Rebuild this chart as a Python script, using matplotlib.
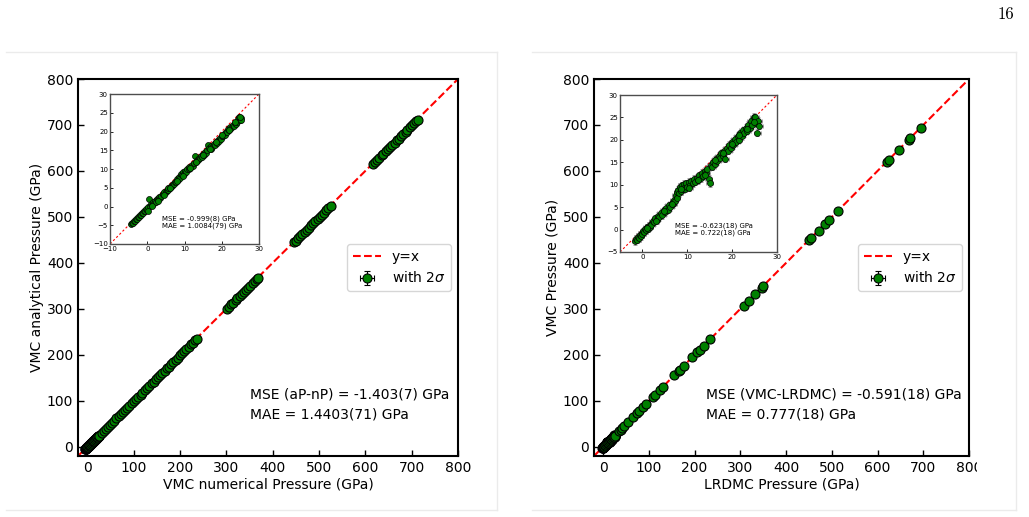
import numpy as np
import matplotlib.pyplot as plt
from matplotlib.lines import Line2D
from matplotlib.patches import Rectangle

#%% DATA

# left panel: VMC numerical vs analytical pressure (GPa), low pressure part (inset)
left_lo_x = [-4.4, -4.1, -3.8, -3.6, -3.3, -3.0, -2.8, -2.5, -2.2, -1.9,
             -1.7, -1.4, -1.1, -0.9, -0.6, -0.3, -0.1, 0.2, 0.5, 0.8,
             1.0, 1.3, 1.6, 1.9, 2.1, 2.4, 2.7, 3.0, 3.2, 3.5,
             3.8, 4.1, 4.3, 4.6, 4.9, 5.2, 5.5, 5.7, 6.0, 6.3,
             6.6, 6.9, 7.1, 7.4, 7.7, 8.0, 8.3, 8.5, 8.8, 9.1,
             9.4, 9.7, 9.9, 10.2, 10.5, 10.8, 11.1, 11.3, 11.6, 11.9,
             12.2, 12.5, 12.7, 13.0, 13.3, 13.6, 13.9, 14.1, 14.4, 14.7,
             15.0, 15.3, 15.6, 15.8, 16.1, 16.4, 16.7, 17.0, 17.2, 17.5,
             17.8, 18.1, 18.4, 18.6, 18.9, 19.2, 19.5, 19.8, 20.0, 20.3,
             20.6, 20.9, 21.2, 21.5, 21.7, 22.0, 22.3, 22.6, 22.9, 23.2,
             23.5, 23.7, 24.0, 24.3, 24.6, 24.9, 25.1, 25.3,
             0.1, 1.4, 2.9, 4.4, 6.2, 7.9, 9.6, 11.5, 13.1, 14.9,
             16.8, 18.5, 20.1, 21.9, 23.6, 24.8]
left_lo_y = [-4.7, -4.5, -4.3, -3.9, -3.8, -3.4, -3.3, -2.8, -2.9, -2.3,
             -2.2, -1.7, -1.8, -1.2, -1.3, -0.7, -0.9, -0.2, 1.9, 0.1,
             0.6, 0.4, 1.1, 0.9, 1.6, 1.3, 2.0, 1.9, 2.6, 2.4,
             2.8, 3.4, 3.3, 3.9, 3.8, 4.5, 4.3, 5.0, 4.9, 5.6,
             5.4, 6.1, 6.0, 6.6, 6.5, 7.3, 7.1, 7.9, 7.7, 8.6,
             8.3, 9.1, 8.8, 9.6, 9.3, 10.1, 9.9, 10.6, 10.3, 11.0,
             10.9, 11.6, 13.4, 12.0, 12.5, 12.3, 13.0, 12.9, 13.6, 13.3,
             14.0, 13.8, 14.5, 14.3, 15.0, 16.3, 15.6, 15.4, 16.1, 15.8,
             16.6, 16.4, 17.2, 16.9, 17.7, 17.5, 18.4, 18.0, 18.9, 18.7,
             19.4, 19.2, 20.0, 19.8, 20.6, 20.3, 21.1, 20.9, 21.7, 21.5,
             22.2, 22.0, 22.6, 23.3, 24.0, 23.1, 23.6, 23.2,
             -1.2, 0.2, 1.5, 3.0, 4.9, 6.8, 8.2, 10.2, 11.8, 13.7,
             15.3, 17.1, 19.1, 20.5, 22.5, 23.9]

# left panel, high pressure part
left_hi_x = [32, 36, 40, 45, 49, 54, 58, 63, 68, 72, 77, 82, 86, 91, 96,
             101, 105, 110, 115, 119, 124, 129, 134, 139, 143, 148, 153, 157,
             162, 167, 172, 176, 181, 186, 191, 195, 200, 205, 209, 214, 219,
             224, 228, 233, 237,
             302, 306, 311, 315, 320, 324, 329, 334, 338, 343, 347, 352, 357,
             361, 366, 369,
             446, 450, 455, 460, 464, 469, 474, 478, 483, 488, 492, 497, 502,
             506, 511, 516, 520, 525,
             616, 620, 625, 630, 635, 639, 644, 649, 654, 658, 663, 668, 672,
             677, 682, 687, 691, 696, 701, 705, 710, 713]
left_hi_y = [30.5, 34.5, 38.7, 43.5, 47.7, 52.5, 56.6, 61.7, 66.5, 70.6,
             75.5, 80.7, 84.5, 89.7, 94.5, 99.6, 103.7, 108.5, 113.6, 117.5,
             122.7, 127.6, 132.5, 137.7, 141.5, 146.6, 151.7, 155.5, 160.6,
             165.5, 170.7, 174.6, 179.5, 184.7, 189.5, 193.6, 198.7, 203.5,
             207.6, 212.5, 217.7, 222.6, 226.5, 231.7, 235.5,
             300.6, 304.5, 309.7, 313.6, 318.5, 322.7, 327.6, 332.5, 336.7,
             341.5, 345.6, 350.7, 355.5, 359.6, 364.5, 367.7,
             444.5, 448.7, 453.6, 458.5, 462.7, 467.6, 472.5, 476.7, 481.6,
             486.5, 490.7, 495.6, 500.5, 504.7, 509.6, 514.5, 518.7, 523.6,
             614.5, 618.7, 623.6, 628.5, 633.7, 637.6, 642.5, 647.7, 652.6,
             656.5, 661.7, 666.6, 670.5, 675.7, 680.6, 685.5, 689.7, 694.6,
             699.5, 703.7, 708.6, 711.5]
left_xerr = 0.3   # 2 sigma, GPa
left_yerr = 0.4

# right panel: LRDMC vs VMC pressure (GPa), low pressure part (inset)
right_lo_x = [-1.6, -1.4, -1.2, -1.0, -0.8, -0.6, -0.4, -0.2, 0.0, 0.2,
              0.4, 0.6, 0.8, 1.0, 1.2, 1.4, 1.6, 1.8, 2.0, 2.3,
              2.6, 2.9, 3.2, 3.5, 3.8, 4.1, 4.4, 4.7, 5.0, 5.3,
              5.6, 5.9, 6.2, 6.5, 6.8, 7.0, 7.2, 7.4, 7.6, 7.8,
              8.0, 8.2, 8.4, 8.6, 8.8, 9.0, 9.2, 9.4, 9.6, 9.8,
              10.0, 10.3, 10.6, 10.9, 11.2, 11.5, 11.8, 12.1, 12.4, 12.7,
              13.0, 13.3, 13.6, 13.9, 14.2, 14.5, 14.8, 15.0, 15.2, 15.5,
              15.8, 16.1, 16.4, 16.7, 17.0, 17.3, 17.6, 17.9, 18.2, 18.5,
              18.8, 19.1, 19.4, 19.7, 20.0, 20.3, 20.6, 20.9, 21.2, 21.5,
              21.8, 22.1, 22.4, 22.7, 23.0, 23.3, 23.6, 23.9, 24.2, 24.5,
              24.8, 25.0, 25.2, 25.4, 25.6, 25.8, 26.0,
              1.1, 3.0, 4.9, 6.6, 8.5, 10.4, 12.3, 14.0, 16.2, 18.0,
              19.9, 21.6, 23.4, 24.9]
right_lo_y = [-2.6, -2.0, -2.3, -1.6, -1.9, -1.2, -1.5, -0.8, -1.0, -0.4,
              -0.6, 0.1, -0.2, 0.5, 0.2, 0.9, 0.6, 1.3, 1.0, 1.8,
              1.6, 2.5, 2.1, 3.1, 2.7, 3.6, 3.2, 4.3, 3.9, 4.8,
              4.4, 5.4, 5.0, 6.0, 5.6, 6.7, 6.3, 7.6, 7.1, 8.4,
              8.9, 8.1, 9.5, 8.6, 9.9, 9.0, 10.2, 9.4, 9.1, 10.3,
              9.6, 10.6, 9.9, 10.8, 10.4, 11.3, 10.7, 11.6, 11.1, 12.1,
              11.5, 12.6, 12.0, 13.1, 12.6, 13.6, 11.3, 10.3, 14.3, 14.0,
              15.1, 14.7, 15.8, 15.3, 16.4, 15.9, 17.0, 16.4, 17.6, 15.8,
              18.2, 17.6, 18.9, 18.2, 19.6, 18.8, 20.2, 19.5, 20.9, 20.0,
              21.5, 20.8, 22.1, 21.5, 22.7, 22.0, 23.4, 22.7, 24.1, 23.3,
              25.2, 24.5, 25.0, 23.8, 21.6, 24.3, 23.2,
              0.3, 2.0, 4.1, 5.7, 9.0, 9.3, 11.0, 12.2, 15.6, 17.1,
              19.0, 21.0, 22.4, 23.9]

# right panel, high pressure part
right_hi_x = [34, 38, 41, 45, 55, 65, 75, 79, 88, 94, 110, 114, 125,
              130, 156, 165, 168, 177, 195, 206, 212, 221, 234, 307, 318, 332,
              347, 350, 450, 454, 471, 485, 494, 514, 621, 624, 646, 668, 672,
              694]
right_hi_y = [33.5, 37.2, 40.5, 44.3, 54.6, 64.2, 74.5, 78.3, 87.5,
              93.4, 109.3, 113.5, 124.2, 129.6, 155.5, 164.1, 167.5, 176.3,
              194.6, 205.3, 211.5, 220.2, 233.6, 306.5, 317.3, 331.6, 346.2,
              349.5, 449.3, 453.6, 470.2, 484.5, 493.3, 513.6, 620.4, 623.5,
              645.3, 667.2, 671.5, 693.4]
right_xerr = 0.8
right_yerr = 0.8

#%% FIGURE

W, H = 1029, 517
fig = plt.figure(figsize=(W / 100, H / 100), dpi=100)


def px(x0, y0, x1, y1):
    # pixel box -> figure fraction [left, bottom, width, height]
    return [x0 / W, 1 - y1 / H, (x1 - x0) / W, (y1 - y0) / H]


def main_panel(rect, x, y, xerr, yerr, xlabel, ylabel):
    ax = fig.add_axes(rect)
    ax.plot([-20, 800], [-20, 800], '--', color='red', lw=1.5, label='y=x', zorder=1)
    ax.errorbar(x, y, xerr=xerr, yerr=yerr, fmt='o', color='green', mfc='green',
                mec='k', ms=6.5, mew=0.8, ecolor='k', elinewidth=0.8, capsize=2,
                label=r'with $2\sigma$', zorder=2)
    ax.set_xlim(-20, 800)
    ax.set_ylim(-20, 800)
    ax.set_xticks(np.arange(0, 801, 100))
    ax.set_yticks(np.arange(0, 801, 100))
    ax.tick_params(direction='in', length=4, width=1, labelsize=10)
    for s in ax.spines.values():
        s.set_linewidth(1.5)
    ax.set_xlabel(xlabel, fontsize=10, labelpad=2)
    ax.set_ylabel(ylabel, fontsize=10, labelpad=2)
    ax.legend(loc='center right', fontsize=10, borderaxespad=0.5)
    return ax


def inset(rect, x, y, xerr, yerr, lo, xt, yt, l1, l2):
    ax = fig.add_axes(rect)
    ax.plot([lo, 30], [lo, 30], '--', color='red', lw=0.8, dashes=(2, 2), zorder=1)
    ax.errorbar(x, y, xerr=xerr, yerr=yerr, fmt='o', color='green', mfc='green',
                mec='k', ms=4.3, mew=0.5, ecolor='0.5', elinewidth=0.7,
                capsize=1.5, zorder=2)
    ax.set_xlim(lo, 30)
    ax.set_ylim(lo, 30)
    ax.set_xticks(xt)
    ax.set_yticks(yt)
    ax.tick_params(direction='in', length=2, width=0.6, labelsize=5, pad=1.5)
    for s in ax.spines.values():
        s.set_linewidth(1.0)
        s.set_color('0.3')
    ax.text(0.35, 0.167, l1, transform=ax.transAxes, va='center', fontsize=5)
    ax.text(0.35, 0.12, l2, transform=ax.transAxes, va='center', fontsize=5)
    return ax


lx = np.concatenate([left_lo_x, left_hi_x])
ly = np.concatenate([left_lo_y, left_hi_y])
rx = np.concatenate([right_lo_x, right_hi_x])
ry = np.concatenate([right_lo_y, right_hi_y])

# left
axL = main_panel(px(78, 79, 458, 456), lx, ly, left_xerr, left_yerr,
                 'VMC numerical Pressure (GPa)', 'VMC analytical Pressure (GPa)')
axL.text(0.453, 0.162, 'MSE (aP-nP) = -1.403(7) GPa', transform=axL.transAxes,
         va='center', fontsize=10)
axL.text(0.453, 0.111, 'MAE = 1.4403(71) GPa', transform=axL.transAxes,
         va='center', fontsize=10)
inset(px(110, 94, 259, 244), lx, ly, left_xerr, left_yerr, -10,
      [-10, 0, 10, 20, 30], np.arange(-10, 31, 5),
      'MSE = -0.999(8) GPa', 'MAE = 1.0084(79) GPa')

# right
axR = main_panel(px(594, 79, 969, 456), rx, ry, right_xerr, right_yerr,
                 'LRDMC Pressure (GPa)', 'VMC Pressure (GPa)')
axR.text(0.30, 0.162, 'MSE (VMC-LRDMC) = -0.591(18) GPa', transform=axR.transAxes,
         va='center', fontsize=10)
axR.text(0.30, 0.111, 'MAE = 0.777(18) GPa', transform=axR.transAxes,
         va='center', fontsize=10)
inset(px(620, 95, 777, 252), rx, ry, right_xerr, right_yerr, -5,
      [0, 10, 20, 30], np.arange(-5, 31, 5),
      'MSE = -0.623(18) GPa', 'MAE = 0.722(18) GPa')

#%% page decorations: image borders, clipped edge, page number
fig.patches.append(Rectangle((977 / W, 1 - 500 / H), 38 / W, 40 / H, transform=fig.transFigure,
                             facecolor='white', edgecolor='none', zorder=5))
for xs, ys in [([6, 497], [52, 52]), ([497, 497], [52, 510]), ([6, 497], [510, 510]),
               ([532, 1016], [52, 52]), ([1016, 1016], [52, 510]), ([532, 1016], [510, 510])]:
    fig.add_artist(Line2D([v / W for v in xs], [1 - v / H for v in ys], color='0.92',
                          lw=1, zorder=6))
fig.text(1006 / W, 1 - 14 / H, '16', fontsize=12, family='cmr10', ha='center', va='center')

plt.savefig('out.png', dpi=100)
